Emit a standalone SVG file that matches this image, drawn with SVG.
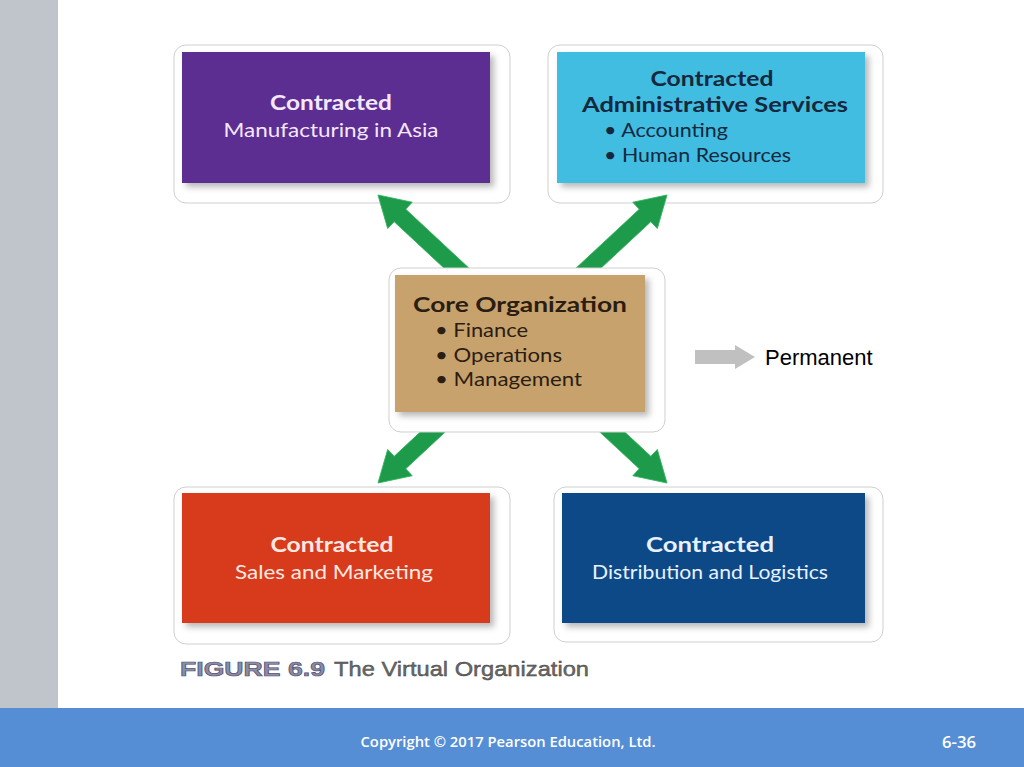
<svg xmlns="http://www.w3.org/2000/svg" width="1024" height="767" viewBox="0 0 1024 767">
<defs>
<filter id="sh" x="-10%" y="-10%" width="125%" height="130%">
<feGaussianBlur in="SourceAlpha" stdDeviation="3"/>
<feOffset dx="4" dy="4" result="b"/>
<feFlood flood-color="#000" flood-opacity="0.28"/>
<feComposite in2="b" operator="in"/>
<feMerge><feMergeNode/><feMergeNode in="SourceGraphic"/></feMerge>
</filter>
<path id="arr" d="M0,-8.5 L109.4,-8.5 L109.4,-18 L139.4,0 L109.4,18 L109.4,8.5 L0,8.5 Z"/>
</defs>
<style>
.frame{fill:#fff;stroke:#cfcfcf;stroke-width:1}
.t{font-family:Lato,"Noto Sans",sans-serif;font-size:20px}
.b{font-weight:bold}
.arrow{fill:#1d9a4a;stroke:#2fb35c;stroke-width:0.8}
</style>
<rect x="0" y="0" width="1024" height="767" fill="#fff"/>
<rect x="0" y="0" width="58" height="708" fill="#c0c5cc"/>

<g id="manufacturing">
<rect class="frame" x="174" y="45" width="336" height="158" rx="12"/>
<rect x="182" y="52" width="308" height="131" fill="#5c2d91" filter="url(#sh)"/>
<text class="t b" x="331" y="110" text-anchor="middle" fill="#f4e8ff" textLength="122" lengthAdjust="spacingAndGlyphs">Contracted</text>
<text class="t" x="331" y="137" text-anchor="middle" fill="#f4e8ff" textLength="215" lengthAdjust="spacingAndGlyphs">Manufacturing in Asia</text>
</g>

<g id="administrative">
<rect class="frame" x="548" y="45" width="335" height="158" rx="12"/>
<rect x="557" y="52" width="308" height="131" fill="#3fbde1" filter="url(#sh)"/>
<text class="t b" x="712" y="86" text-anchor="middle" fill="#16283d" textLength="123" lengthAdjust="spacingAndGlyphs">Contracted</text>
<text class="t b" x="715" y="112" text-anchor="middle" fill="#16283d" textLength="266" lengthAdjust="spacingAndGlyphs">Administrative Services</text>
<text class="t" x="604" y="137" fill="#16283d" textLength="124" lengthAdjust="spacingAndGlyphs">• Accounting</text>
<text class="t" x="604" y="162" fill="#16283d" textLength="187" lengthAdjust="spacingAndGlyphs">• Human Resources</text>
</g>

<g id="sales">
<rect class="frame" x="174" y="487" width="336" height="157" rx="12"/>
<rect x="182" y="493" width="308" height="130" fill="#d83a1f" filter="url(#sh)"/>
<text class="t b" x="332" y="552" text-anchor="middle" fill="#fde9e2" textLength="123" lengthAdjust="spacingAndGlyphs">Contracted</text>
<text class="t" x="334" y="579" text-anchor="middle" fill="#fde9e2" textLength="198" lengthAdjust="spacingAndGlyphs">Sales and Marketing</text>
</g>

<g id="distribution">
<rect class="frame" x="554" y="487" width="329" height="155" rx="12"/>
<rect x="562" y="493" width="303" height="130" fill="#0c4a87" filter="url(#sh)"/>
<text class="t b" x="710" y="552" text-anchor="middle" fill="#e8f1ff" textLength="128" lengthAdjust="spacingAndGlyphs">Contracted</text>
<text class="t" x="710" y="579" text-anchor="middle" fill="#e8f1ff" textLength="236" lengthAdjust="spacingAndGlyphs">Distribution and Logistics</text>
</g>

<g id="connectors">
<use href="#arr" class="arrow" transform="translate(480,290) rotate(-137.03)"/>
<use href="#arr" class="arrow" transform="translate(565,290) rotate(-42.97)"/>
<use href="#arr" class="arrow" transform="translate(480,388) rotate(137.03)"/>
<use href="#arr" class="arrow" transform="translate(565,388) rotate(42.97)"/>
</g>

<g id="core">
<rect class="frame" x="389" y="268" width="276" height="164" rx="12"/>
<rect x="395" y="275" width="250" height="137" fill="#c8a26c" filter="url(#sh)"/>
<text class="t b" x="520" y="312" text-anchor="middle" fill="#2a1d12" textLength="214" lengthAdjust="spacingAndGlyphs">Core Organization</text>
<text class="t" x="435" y="337" fill="#2a1d12" textLength="93" lengthAdjust="spacingAndGlyphs">• Finance</text>
<text class="t" x="435" y="362" fill="#2a1d12" textLength="127" lengthAdjust="spacingAndGlyphs">• Operations</text>
<text class="t" x="435" y="386" fill="#2a1d12" textLength="147" lengthAdjust="spacingAndGlyphs">• Management</text>
</g>

<g id="legend">
<path d="M695,350 L735,350 L735,345 L755,357 L735,369 L735,364 L695,364 Z" fill="#c0c0c0"/>
<text x="765" y="365" font-family="Liberation Sans,Arial,sans-serif" font-size="22" fill="#000">Permanent</text>
</g>

<g id="caption">
<text x="180" y="676" font-family="Liberation Sans,Arial,sans-serif" font-size="21" font-weight="bold" fill="#8c8ca6" stroke="#4e4e70" stroke-width="0.7" textLength="145" lengthAdjust="spacingAndGlyphs">FIGURE 6.9</text>
<text x="334" y="676" font-family="Liberation Sans,Arial,sans-serif" font-size="21" fill="#6a6a6a" stroke="#3a3a3a" stroke-width="0.4" textLength="255" lengthAdjust="spacingAndGlyphs">The Virtual Organization</text>
</g>

<g id="footer">
<rect x="0" y="708" width="1024" height="59" fill="#558ed5"/>
<text x="508" y="747" text-anchor="middle" font-family="Open Sans,Liberation Sans,sans-serif" font-size="14" font-weight="600" fill="#fff" textLength="295" lengthAdjust="spacingAndGlyphs">Copyright © 2017 Pearson Education, Ltd.</text>
<text x="976" y="748" text-anchor="end" font-family="Open Sans,Liberation Sans,sans-serif" font-size="16" font-weight="600" fill="#fff" textLength="34" lengthAdjust="spacingAndGlyphs">6-36</text>
</g>
</svg>
